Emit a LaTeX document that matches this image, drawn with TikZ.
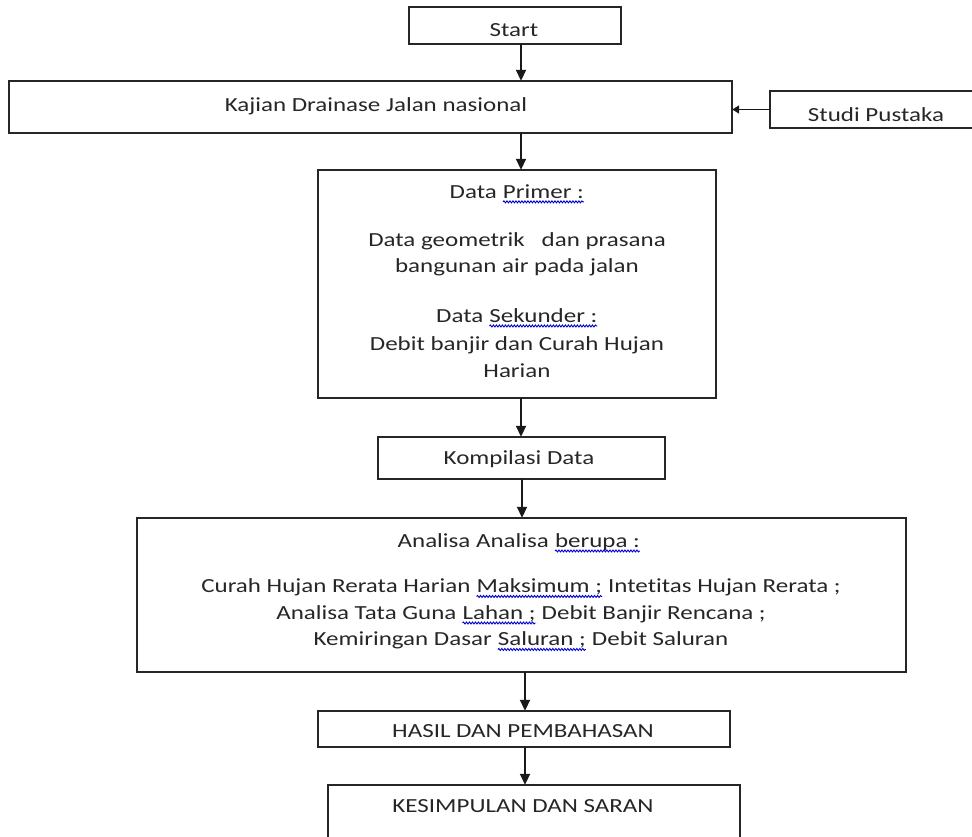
\documentclass[tikz,border=0pt]{standalone}
\usepackage{fontspec}
\setmainfont{Carlito}[FakeStretch=1.25,Ligatures={NoCommon,NoRequired,NoContextual}]
\usetikzlibrary{arrows.meta,decorations.pathmorphing}
\newcommand{\spl}[1]{\tikz[baseline=(w.base)]{\node[inner sep=0pt,outer sep=0pt,draw=none](w){#1};\draw[draw=blue!80!black,line width=0.9pt,decorate,decoration={snake,amplitude=1pt,segment length=3pt}]([yshift=-3.5pt]w.base west)--([yshift=-3.5pt]w.base east);}}
\tikzset{
  box/.style={draw=black!85,line width=1.6pt},
  lbl/.style={font=\fontsize{20}{26.5}\selectfont,text=black!85,align=center,inner sep=0pt},
  arr/.style={line width=1.8pt,draw=black!90,-{Triangle[width=10pt,length=11pt]}},
  sarr/.style={line width=1.8pt,draw=black!90,-{Triangle[width=8pt,length=7pt]}},
}
\begin{document}
\begin{tikzpicture}[x=1pt,y=-1pt]
\useasboundingbox (0,0) rectangle (972,836);
\begin{scope}
\clip (0,0) rectangle (972,836);
% boxes
\draw[box] (409,7) rectangle (621,44);
\draw[box] (9,81) rectangle (732,133);
\draw[box] (770,91) rectangle (975,128);
\draw[box] (318,170) rectangle (716,398);
\draw[box] (378,437) rectangle (665,479);
\draw[box] (137,518) rectangle (906,672);
\draw[box] (318,711) rectangle (730,747);
\draw[box] (328,785) rectangle (740,850);
\end{scope}
% anchor nodes (box outlines as named nodes)
\node[inner sep=0pt,minimum width=212pt,minimum height=37pt] (start) at (515,25.5) {};
\node[inner sep=0pt,minimum width=723pt,minimum height=52pt] (kajian) at (370.5,107) {};
\node[inner sep=0pt,minimum width=202pt,minimum height=37pt] (studi) at (871,109.5) {};
\node[inner sep=0pt,minimum width=398pt,minimum height=228pt] (data) at (517,284) {};
\node[inner sep=0pt,minimum width=287pt,minimum height=42pt] (komp) at (521.5,458) {};
\node[inner sep=0pt,minimum width=769pt,minimum height=154pt] (anal) at (521.5,595) {};
\node[inner sep=0pt,minimum width=412pt,minimum height=36pt] (hasil) at (524,729) {};
\node[inner sep=0pt,minimum width=412pt,minimum height=65pt] (kes) at (534,817.5) {};
% texts
\node[lbl] (tstart) at (514,30) {Start};
\node[lbl] (tkaj) at (376,106) {Kajian Drainase Jalan nasional};
\node[lbl] (tstudi) at (876,115) {Studi Pustaka};
\node[lbl] (td1) at (517,194) {Data \spl{Primer :}};
\node[lbl] (td2) at (517,254.5) {Data geometrik \ \ dan prasana\\bangunan air pada jalan};
\node[lbl] (td3) at (517,318) {Data \spl{Sekunder :}};
\node[lbl] (td4) at (517,357) {Debit banjir dan Curah Hujan\\Harian};
\node[lbl] (tkomp) at (519,459) {Kompilasi Data};
\node[lbl] (ta1) at (519,543) {Analisa Analisa \spl{berupa :}};
\node[lbl] (ta2) at (521,615) {Curah Hujan Rerata Harian \spl{Maksimum ;} Intetitas Hujan Rerata ;\\Analisa Tata Guna \spl{Lahan ;} Debit Banjir Rencana ;\\Kemiringan Dasar \spl{Saluran ;} Debit Saluran};
\node[lbl] (thasil) at (523,731) {HASIL DAN PEMBAHASAN};
\node[lbl] (tkes) at (523,806) {KESIMPULAN DAN SARAN};
% arrows
\draw[arr] (start.south -| 521,0) -- (kajian.north -| 521,0);
\draw[sarr] (studi.west) -- (studi.west -| kajian.east);
\draw[arr] (kajian.south -| 521,0) -- (data.north -| 521,0);
\draw[arr] (data.south -| 521,0) -- (komp.north -| 521,0);
\draw[arr] (komp.south -| 522,0) -- (anal.north -| 522,0);
\draw[arr] (anal.south -| 525,0) -- (hasil.north -| 525,0);
\draw[arr] (hasil.south -| 525,0) -- (kes.north -| 525,0);
\end{tikzpicture}
\end{document}
